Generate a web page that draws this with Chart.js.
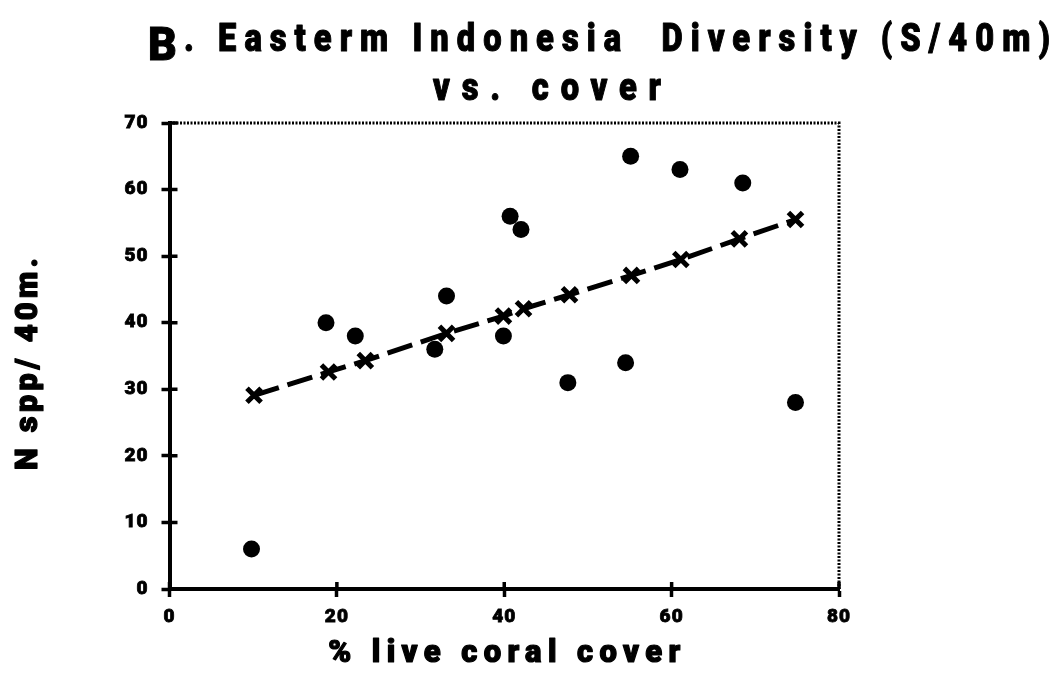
<!DOCTYPE html>
<html>
<head>
<meta charset="utf-8">
<script src="https://cdn.jsdelivr.net/npm/chart.js@4/dist/chart.umd.min.js"></script>
<style>
  html, body { margin: 0; padding: 0; background: #fff; }
  canvas { display: block; }
</style>
</head>
<body>
<canvas id="c" width="1059" height="681"></canvas>
<script>
// Survey sites: live coral cover (%) and species count per 40 m transect
const coverPct = [9.8, 18.7, 22.2, 31.7, 33.1, 39.9, 40.7, 42.0, 47.6, 54.5, 55.1, 61.0, 68.5, 74.8];
const speciesPer40m = [6, 40, 38, 36, 44, 38, 56, 54, 31, 34, 65, 63, 61, 28];

// Regression line as plotted (x = cover, y = predicted species count)
const fitCover = [10.1, 19.0, 23.4, 33.1, 39.9, 42.3, 47.8, 55.2, 61.1, 68.1, 74.8];
const fitSpecies = [29.1, 32.6, 34.3, 38.4, 41.0, 42.1, 44.2, 47.1, 49.5, 52.6, 55.5];

const titleLetter = 'B';
const titleLine1 = '. Easterm Indonesia  Diversity (S/40m)';
const titleLine2 = 'vs. cover';
const xAxisTitle = '% live coral cover';
const yAxisTitle = 'N spp/ 40m.';
const xTickStep = 20;
const yTickStep = 10;

const FAMILY = 'Roboto, "Liberation Sans", Arial, sans-serif';

const pairs = (xs, ys) => xs.map((x, i) => ({ x, y: ys[i] }));

// Draws a heavy string with letter spacing chosen so it spans a given width.
// (x, y) is the left end of the baseline, or its centre when align is 'center'.
// hs narrows the glyphs horizontally; ink thickens the strokes.
function spacedText(ctx, text, x, y, font, width, opts) {
  const o = Object.assign({ align: 'left', rotate: 0, hs: 1, ink: 1 }, opts);
  ctx.save();
  ctx.font = font;
  ctx.letterSpacing = '0px';
  const w0 = ctx.measureText(text).width;
  const sp = Math.max(0, (width / o.hs - w0) / (text.length - 1));
  ctx.letterSpacing = sp + 'px';
  ctx.fillStyle = '#000';
  ctx.strokeStyle = '#000';
  ctx.lineJoin = 'round';
  ctx.lineWidth = o.ink;
  ctx.textBaseline = 'alphabetic';
  ctx.textAlign = 'left';
  ctx.translate(x, y);
  if (o.rotate) ctx.rotate(o.rotate);
  ctx.scale(o.hs, 1);
  const sx = o.align === 'center' ? -width / 2 / o.hs : 0;
  ctx.fillText(text, sx, 0);
  if (o.ink > 0) ctx.strokeText(text, sx, 0);
  ctx.restore();
}

const headingPlugin = {
  id: 'heading',
  afterDraw(chart) {
    const ctx = chart.ctx;
    ctx.save();
    ctx.font = '900 47px ' + FAMILY;
    ctx.fillStyle = '#000';
    ctx.strokeStyle = '#000';
    ctx.lineWidth = 1;
    ctx.textBaseline = 'alphabetic';
    ctx.letterSpacing = '0px';
    ctx.translate(148, 60);
    ctx.scale(0.95, 1);
    ctx.fillText(titleLetter, 0, 0);
    ctx.strokeText(titleLetter, 0, 0);
    ctx.restore();
    spacedText(ctx, titleLine1, 184, 51, '900 38px ' + FAMILY, 866, { hs: 0.86, ink: 1 });
    spacedText(ctx, titleLine2, 547, 100, '900 38px ' + FAMILY, 228, { align: 'center', hs: 0.86, ink: 1 });

    // axis titles, centred on the plot area
    const a = chart.chartArea;
    spacedText(ctx, xAxisTitle, (a.left + a.right) / 2, 662, '900 31px ' + FAMILY, 352, { align: 'center', ink: 1.2 });
    spacedText(ctx, yAxisTitle, 37, 364, '900 31px ' + FAMILY, 212, { align: 'center', rotate: -Math.PI / 2, ink: 1.2 });
  }
};

// Frame: dotted top/right edges and tick marks crossing into the plot
const framePlugin = {
  id: 'frame',
  beforeDraw(chart) {
    chart.ctx.letterSpacing = '1px';
  },
  afterDraw(chart) {
    const { ctx, chartArea: a, scales: { x, y } } = chart;
    ctx.save();
    ctx.letterSpacing = '0px';
    ctx.strokeStyle = '#000';
    ctx.lineWidth = 3;
    ctx.setLineDash([2, 1.5]);
    ctx.beginPath();
    ctx.moveTo(a.left, a.top);
    ctx.lineTo(a.right, a.top);
    ctx.lineTo(a.right, a.bottom);
    ctx.stroke();
    ctx.setLineDash([]);
    ctx.lineWidth = 3.5;
    ctx.beginPath();
    x.ticks.forEach(t => {
      const px = x.getPixelForValue(t.value);
      ctx.moveTo(px, a.bottom);
      ctx.lineTo(px, a.bottom - 7);
    });
    y.ticks.forEach(t => {
      const py = y.getPixelForValue(t.value);
      ctx.moveTo(a.left, py);
      ctx.lineTo(a.left + 8, py);
    });
    ctx.stroke();
    ctx.restore();
  }
};

const tickFont = { family: FAMILY, size: 19, weight: 900 };

new Chart(document.getElementById('c'), {
  type: 'scatter',
  data: {
    datasets: [
      {
        label: 'sites',
        data: pairs(coverPct, speciesPer40m),
        pointStyle: 'circle',
        pointRadius: 8.5,
        backgroundColor: '#000',
        borderColor: '#000',
        borderWidth: 0,
        order: 1
      },
      {
        label: 'fit',
        type: 'line',
        data: pairs(fitCover, fitSpecies),
        showLine: true,
        borderColor: '#000',
        borderWidth: 5,
        borderDash: [26, 9],
        pointStyle: 'crossRot',
        pointRadius: 10,
        pointBorderWidth: 5,
        pointBorderColor: '#000',
        fill: false,
        tension: 0,
        order: 0
      }
    ]
  },
  options: {
    responsive: false,
    animation: false,
    devicePixelRatio: 1,
    layout: { padding: { top: 123, right: 220, left: 0, bottom: 0 } },
    plugins: {
      legend: { display: false },
      title: { display: false },
      tooltip: { enabled: false }
    },
    scales: {
      x: {
        type: 'linear',
        min: 0,
        max: 80,
        ticks: { stepSize: xTickStep, font: tickFont, color: '#000', padding: 9, maxRotation: 0, textStrokeColor: '#000', textStrokeWidth: 0.8 },
        grid: { drawOnChartArea: false, tickLength: 8, tickWidth: 3.5, tickColor: '#000', color: '#000' },
        border: { width: 4, color: '#000' },
        afterFit(s) { s.height = 92; }
      },
      y: {
        type: 'linear',
        min: 0,
        max: 70,
        ticks: { stepSize: yTickStep, font: tickFont, color: '#000', padding: 13, textStrokeColor: '#000', textStrokeWidth: 0.8 },
        grid: { drawOnChartArea: false, tickLength: 8, tickWidth: 3.5, tickColor: '#000', color: '#000' },
        border: { width: 4, color: '#000' },
        afterFit(s) { s.width = 169.5; }
      }
    }
  },
  plugins: [framePlugin, headingPlugin]
});
</script>
</body>
</html>
